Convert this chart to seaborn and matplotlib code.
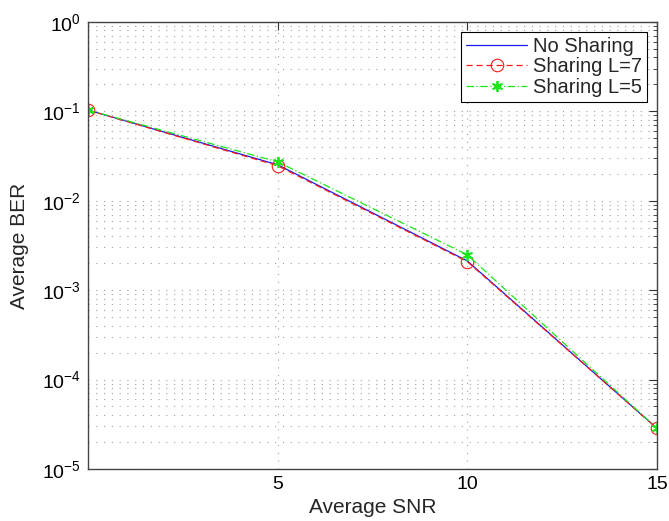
import numpy as np
import pandas as pd
import matplotlib
matplotlib.use("Agg")
import matplotlib.pyplot as plt
from matplotlib.ticker import LogLocator, FixedLocator, NullFormatter
import seaborn as sns

# Average SNR points and BER for each scheme
snr = [0, 5, 10, 15]
ber_no_sharing = [0.103, 0.0252, 0.00212, 2.85e-5]
ber_sharing_l7 = [0.103, 0.0246, 0.00208, 2.85e-5]
ber_sharing_l5 = [0.103, 0.0272, 0.00248, 2.85e-5]
series_names = ["No Sharing", "Sharing L=7", "Sharing L=5"]

sns.set_theme(style="white")
plt.rcParams["font.family"] = ["Liberation Sans", "DejaVu Sans"]
plt.rcParams["mathtext.fontset"] = "custom"
plt.rcParams["mathtext.rm"] = "Liberation Sans"
plt.rcParams["mathtext.it"] = "Liberation Sans:italic"
plt.rcParams["mathtext.bf"] = "Liberation Sans:bold"

df = pd.DataFrame({
    "snr": snr * 3,
    "ber": ber_no_sharing + ber_sharing_l7 + ber_sharing_l5,
    "scheme": [series_names[0]] * 4 + [series_names[1]] * 4 + [series_names[2]] * 4,
})

fig = plt.figure(figsize=(6.69, 5.21), dpi=100)
ax = fig.add_axes([0.1315, 0.0998, 0.8505, 0.8584])

styles = {
    "No Sharing": dict(color=(0.1, 0.1, 0.95), linestyle="-", marker=None),
    "Sharing L=7": dict(color=(1, 0.1, 0.1), linestyle=(0, (5, 3)), marker="o",
                        markerfacecolor="none", markeredgecolor=(1, 0.1, 0.1),
                        markersize=9, markeredgewidth=0.8),
    "Sharing L=5": dict(color=(0.1, 0.9, 0.1), linestyle=(0, (6, 2, 1, 2)), marker=(6, 2, 0),
                        markeredgecolor=(0.1, 0.9, 0.1), markersize=8, markeredgewidth=1.3),
}

for name in series_names:
    sub = df[df["scheme"] == name]
    sns.lineplot(data=sub, x="snr", y="ber", ax=ax, label=name,
                 linewidth=0.9, **styles[name])

ax.set_yscale("log")
ax.set_xlim(0, 15)
ax.set_ylim(1e-5, 1)

ax.xaxis.set_major_locator(FixedLocator([5, 10, 15]))
ax.yaxis.set_major_locator(LogLocator(base=10, numticks=10))
ax.yaxis.set_minor_locator(LogLocator(base=10, subs=np.arange(2, 10), numticks=20))
ax.yaxis.set_minor_formatter(NullFormatter())

ax.tick_params(axis="both", which="both", direction="in", top=True, right=True,
               labelsize=14, colors="#333333", labelcolor="black")
ax.tick_params(axis="both", which="major", length=6, width=0.8, pad=5)
ax.tick_params(axis="y", which="minor", length=3, width=0.6)

ax.grid(True, axis="y", which="both", linestyle=(0, (1, 6)), color="#a0a0a0", linewidth=0.8)
ax.grid(True, axis="x", which="major", linestyle=(0, (1, 6)), color="#a0a0a0", linewidth=0.8)

for sp in ax.spines.values():
    sp.set_color("#444444")
    sp.set_linewidth(1.0)

ax.set_xlabel("Average SNR", fontsize=15, va="center")
ax.set_ylabel("Average BER", fontsize=15, va="center")
ax.xaxis.set_label_coords(0.5, -0.085)
ax.yaxis.set_label_coords(-0.12, 0.5)

leg = ax.legend(loc="upper right", fontsize=14.5, frameon=True, fancybox=False,
                borderaxespad=0.5, handlelength=3.0, handletextpad=0.3,
                borderpad=0.25, labelspacing=0.08)
leg.get_frame().set_edgecolor("black")
leg.get_frame().set_linewidth(0.8)
leg.get_frame().set_alpha(1.0)

fig.savefig("out.png", dpi=100)
